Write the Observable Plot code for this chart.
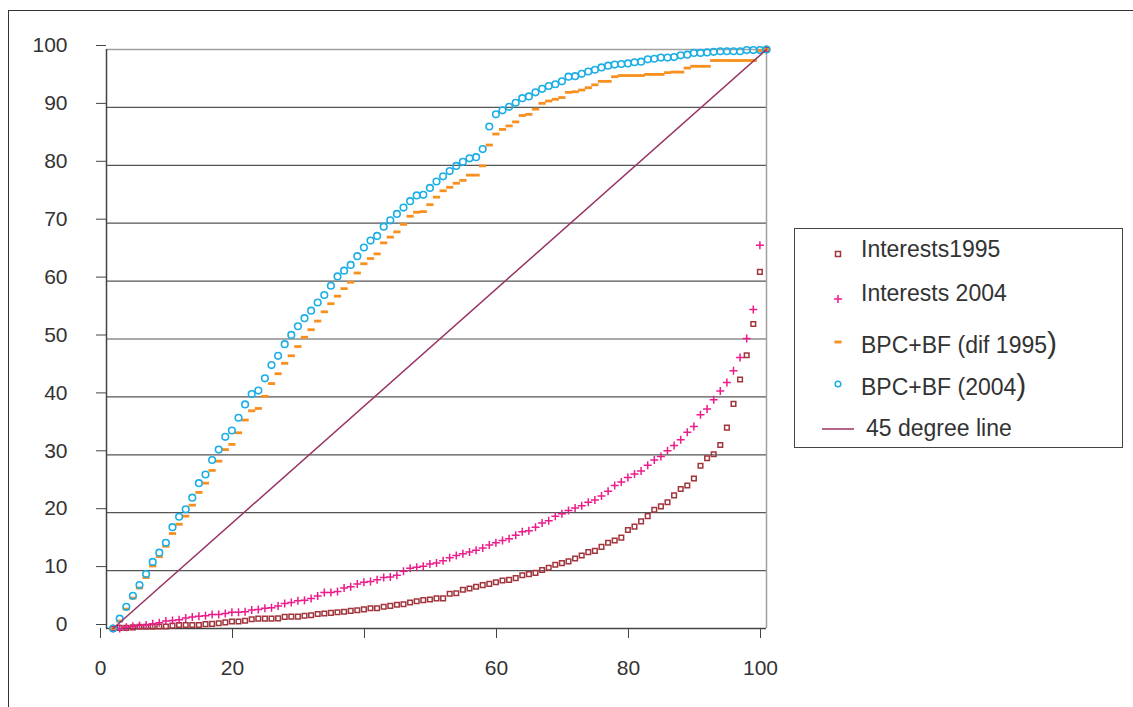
<!DOCTYPE html>
<html>
<head>
<meta charset="utf-8">
<script src="https://cdn.jsdelivr.net/npm/d3@7"></script>
<script src="https://cdn.jsdelivr.net/npm/@observablehq/plot@0.6"></script>
<style>
  html, body { margin: 0; padding: 0; background: #fff; }
  #wrap { position: relative; width: 1133px; height: 707px; overflow: hidden; font-family: "Liberation Sans", Arial, Helvetica, sans-serif; color: #333; }
  #frame { position: absolute; left: 8px; top: 10px; width: 1300px; height: 900px; border-left: 1.5px solid #333; border-top: 1.5px solid #333; }
  #chart { position: absolute; left: 0; top: 0; }
  #legend { position: absolute; left: 794px; top: 228px; width: 327px; height: 218px; border: 1.5px solid #444; background: #fff; }
  .row { position: absolute; left: 0; font-size: 23px; white-space: nowrap; line-height: 1; }
  .row span.big { font-size: 30px; }
  .sym { position: absolute; }
</style>
</head>
<body>
<div id="wrap">
  <div id="frame"></div>
  <div id="chart"></div>
  <div id="legend"></div>
</div>
<script>
// ---- data ----
const percentiles = d3.range(1, 101);

const interests1995 = [
  0, 0.1, 0.1, 0.2, 0.3, 0.3, 0.3, 0.35, 0.35, 0.5,
  0.6, 0.6, 0.6, 0.6, 0.75, 0.8, 0.9, 1.05, 1.2, 1.2,
  1.35, 1.6, 1.7, 1.7, 1.7, 1.75, 2.0, 2.05, 2.05, 2.2,
  2.3, 2.5, 2.6, 2.7, 2.8, 2.9, 3.05, 3.15, 3.3, 3.5,
  3.5, 3.75, 3.9, 4.1, 4.2, 4.5, 4.7, 4.9, 5.0, 5.2,
  5.2, 6.0, 6.1, 6.7, 6.9, 7.2, 7.5, 7.7, 8.0, 8.3,
  8.4, 8.7, 9.2, 9.4, 9.6, 10.1, 10.5, 11.0, 11.3, 11.6,
  12.1, 12.6, 13.2, 13.4, 14.1, 14.8, 15.2, 15.7, 17.0, 17.6,
  18.5, 19.4, 20.5, 21.1, 21.8, 23.0, 24.1, 24.7, 25.9, 28.1,
  29.4, 30.1, 31.7, 34.7, 38.8, 43.0, 47.2, 52.6, 61.6, 100
];

const interests2004 = [
  0, 0, 0.2, 0.4, 0.5, 0.6, 0.8, 1.0, 1.3, 1.4,
  1.5, 1.8, 2.0, 2.1, 2.2, 2.4, 2.4, 2.6, 2.8, 2.8,
  2.9, 3.2, 3.3, 3.5, 3.6, 3.9, 4.3, 4.5, 4.8, 4.9,
  5.2, 5.6, 6.2, 6.2, 6.4, 7.0, 7.2, 7.7, 8.0, 8.1,
  8.4, 8.8, 8.9, 9.2, 9.9, 10.4, 10.6, 10.75, 11.15, 11.3,
  11.7, 12.2, 12.6, 12.9, 13.2, 13.5, 13.9, 14.4, 14.8, 15.2,
  15.5, 16.1, 16.7, 16.9, 17.5, 18.2, 18.6, 19.4, 19.8, 20.4,
  20.8, 21.2, 21.8, 22.2, 22.9, 23.7, 24.7, 25.3, 26.1, 26.7,
  27.2, 28.2, 29.1, 29.7, 30.7, 31.6, 32.6, 33.9, 34.9, 36.9,
  37.9, 39.5, 41.0, 42.5, 44.5, 46.8, 50.1, 55.1, 66.2, 100
];

const bpcDif1995 = [
  0, 1.3, 3.35, 5.25, 7.0, 8.8, 10.8, 12.4, 14.2, 16.4,
  18.0, 19.4, 21.3, 23.5, 25.1, 27.3, 28.9, 30.9, 31.8, 33.8,
  36.0, 37.6, 38.0, 40.1, 42.3, 44.0, 45.8, 47.1, 48.7, 50.3,
  51.6, 53.1, 54.7, 56.1, 57.4, 58.7, 59.8, 61.4, 63.0, 63.9,
  64.7, 66.6, 67.6, 68.5, 69.8, 71.2, 71.9, 72.0, 73.2, 74.5,
  75.6, 76.2, 76.9, 77.4, 78.3, 78.3, 79.9, 83.5, 85.4, 86.2,
  86.8, 87.5, 88.6, 88.8, 89.7, 90.7, 91.1, 91.4, 91.7, 92.6,
  92.7, 93.0, 93.4, 93.9, 94.5, 94.5, 95.3, 95.5, 95.5, 95.5,
  95.5, 95.7, 95.7, 95.7, 96.0, 96.1, 96.1, 96.8, 97.1, 97.1,
  97.1, 98.1, 98.1, 98.1, 98.1, 98.1, 98.1, 98.1, 99.8, 100
];

const bpc2004 = [
  0, 1.7, 3.75, 5.65, 7.5, 9.4, 11.5, 13.1, 14.8, 17.5,
  19.3, 20.6, 22.6, 25.1, 26.6, 29.1, 30.9, 33.1, 34.2, 36.4,
  38.7, 40.5, 41.1, 43.2, 45.5, 47.1, 49.1, 50.7, 52.2, 53.6,
  54.9, 56.3, 57.6, 59.2, 60.8, 61.8, 62.8, 64.3, 65.8, 67.0,
  67.8, 69.4, 70.5, 71.6, 72.7, 73.8, 74.8, 74.9, 76.1, 77.2,
  78.1, 79.0, 79.9, 80.6, 81.2, 81.4, 82.8, 86.7, 88.8, 89.5,
  90.1, 90.8, 91.6, 91.9, 92.6, 93.2, 93.7, 94.0, 94.5, 95.3,
  95.4, 95.8, 96.2, 96.5, 96.9, 97.2, 97.4, 97.5, 97.6, 97.8,
  97.9, 98.3, 98.4, 98.6, 98.6, 98.7, 99.0, 99.1, 99.4, 99.4,
  99.5, 99.6, 99.7, 99.7, 99.7, 99.7, 99.9, 99.9, 99.9, 100
];

const line45X = [1, 100];
const line45Y = [0, 100];

const xTickValues = [0, 20, 40, 60, 80, 100];
const xTickLabels = ["0", "20", "", "60", "80", "100"];
const yTickValues = [0, 10, 20, 30, 40, 50, 60, 70, 80, 90, 100];

const seriesNames = ["Interests1995", "Interests 2004", "BPC+BF (dif 1995", "BPC+BF (2004", "45 degree line"];
const colors = {i95: "#A2343C", i04: "#EC1C8C", dif: "#F7901E", b04: "#1CAEE6", line: "#993366"};

// ---- build tables ----
const toRows = arr => percentiles.map((p, i) => ({x: p, y: arr[i]}));
const line45 = line45X.map((x, i) => ({x, y: line45Y[i]}));

const dashSymbol = {
  draw(ctx) {
    ctx.moveTo(-3.6, -1.4); ctx.lineTo(3.6, -1.4); ctx.lineTo(3.6, 1.4); ctx.lineTo(-3.6, 1.4); ctx.closePath();
  }
};
const plusSymbol = {
  draw(ctx) {
    ctx.moveTo(-4, 0); ctx.lineTo(4, 0); ctx.moveTo(0, -4); ctx.lineTo(0, 4);
  }
};

const chart = Plot.plot({
  width: 1133,
  height: 707,
  marginLeft: 106,
  marginRight: 367,
  marginTop: 49,
  marginBottom: 79,
  style: {fontFamily: '"Liberation Sans", Arial, Helvetica, sans-serif', fontSize: "21px", color: "#333", background: "transparent", overflow: "visible"},
  x: {domain: [0, 100]},
  y: {domain: [0, 100]},
  marks: [
    Plot.ruleY(yTickValues.filter(d => d > 0 && d < 100), {stroke: "#555", strokeWidth: 1.2}),
    Plot.ruleY([100], {stroke: "#a0a0a0", strokeWidth: 1.5}),
    Plot.ruleX([100], {y1: 0, y2: 100, stroke: "#a0a0a0", strokeWidth: 1.5}),
    Plot.axisY({ticks: yTickValues, tickSize: 10, tickPadding: 29, dy: -4, stroke: "#444", fill: "#333", label: null}),
    Plot.axisX({ticks: xTickValues, tickFormat: d => xTickLabels[xTickValues.indexOf(d)], tickSize: 10, tickPadding: 22, dx: -6, stroke: "#444", fill: "#333", label: null}),
    Plot.ruleY([0], {stroke: "#444", strokeWidth: 1.5}),
    Plot.ruleX([0], {stroke: "#444", strokeWidth: 1.5}),
    Plot.dot(toRows(interests1995), {x: "x", y: "y", symbol: "square", r: 2.6, stroke: colors.i95, strokeWidth: 1.5, fill: "none"}),
    Plot.dot(toRows(interests2004), {x: "x", y: "y", symbol: plusSymbol, stroke: colors.i04, strokeWidth: 1.5, fill: "none"}),
    Plot.dot(toRows(bpcDif1995), {x: "x", y: "y", symbol: dashSymbol, fill: colors.dif, stroke: "none"}),
    Plot.dot(toRows(bpc2004), {x: "x", y: "y", symbol: "circle", r: 3.3, stroke: colors.b04, strokeWidth: 1.6, fill: "none"}),
    Plot.line(line45, {x: "x", y: "y", stroke: colors.line, strokeWidth: 1.5})
  ]
});
document.getElementById("chart").appendChild(chart);

// ---- legend ----
const legend = document.getElementById("legend");
const rowsSpec = [
  {name: seriesNames[0], cy: 21, sym: `<rect x="-2.5" y="-2.5" width="5" height="5" fill="none" stroke="${colors.i95}" stroke-width="1.5"/>`, symY: 25, big: false, tx: 66},
  {name: seriesNames[1], cy: 65, sym: `<path d="M-4,0H4M0,-4V4" stroke="${colors.i04}" stroke-width="1.5"/>`, symY: 70, big: false, tx: 66},
  {name: seriesNames[2], cy: 115, sym: `<rect x="-3.6" y="-1.4" width="7.2" height="2.8" fill="${colors.dif}"/>`, symY: 113, big: true, tx: 66},
  {name: seriesNames[3], cy: 157, sym: `<circle r="2.8" fill="none" stroke="${colors.b04}" stroke-width="1.5"/>`, symY: 155, big: true, tx: 66},
  {name: seriesNames[4], cy: 200, sym: `<path d="M-16,0H16" stroke="${colors.line}" stroke-width="1.5"/>`, symY: 200, big: false, tx: 71}
];
for (const r of rowsSpec) {
  const s = document.createElement("div");
  s.className = "sym";
  s.style.left = (43 - 20) + "px";
  s.style.top = (r.symY - 20) + "px";
  s.innerHTML = `<svg width="40" height="40" viewBox="-20 -20 40 40">${r.sym}</svg>`;
  legend.appendChild(s);
  const t = document.createElement("div");
  t.className = "row";
  t.style.left = r.tx + "px";
  t.style.top = (r.cy - 12) + "px";
  t.innerHTML = r.big ? `${r.name}<span class="big">)</span>` : r.name;
  if (r.big) t.style.top = (r.cy - 16) + "px";
  legend.appendChild(t);
}
</script>
</body>
</html>
